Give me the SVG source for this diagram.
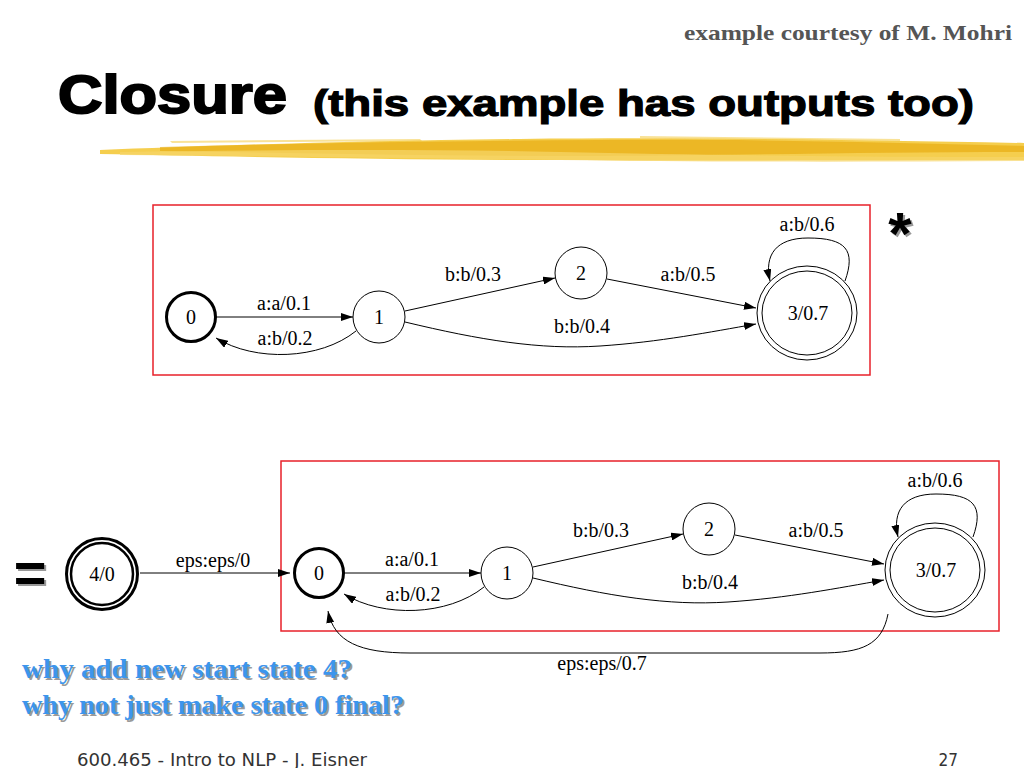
<svg xmlns="http://www.w3.org/2000/svg" width="1024" height="768" viewBox="0 0 1024 768">
<defs>
<marker id="arr" viewBox="0 0 12 8" refX="12" refY="4" markerWidth="12" markerHeight="8" markerUnits="userSpaceOnUse" orient="auto">
<path d="M0,0 L12,4 L0,8 z" fill="#000"/>
</marker>
</defs>
<style>
.st{fill:#fff;stroke:#000;stroke-width:1}
.start{fill:#fff;stroke:#000;stroke-width:3}
.nl{font-family:"Liberation Serif","Times New Roman",serif;font-size:20px;fill:#000;text-anchor:middle}
.el{font-family:"Liberation Serif","Times New Roman",serif;font-size:20px;fill:#000;text-anchor:middle}
.edge{fill:none;stroke:#000;stroke-width:1;marker-end:url(#arr)}
.box{fill:none;stroke:#e8202a;stroke-width:1.5}
.q{font-family:"Liberation Serif","Times New Roman",serif;font-size:27px;font-weight:bold}
.sans{font-family:"Liberation Sans",Arial,sans-serif;font-weight:bold}
</style>
<rect width="1024" height="768" fill="#fff"/>

<!-- header -->
<text x="1012" y="40" text-anchor="end" font-family="'Liberation Serif',serif" font-weight="bold" font-size="21" fill="#555" textLength="328" lengthAdjust="spacingAndGlyphs">example courtesy of M. Mohri</text>
<text class="sans" x="58" y="113" font-size="54" fill="#000" stroke="#000" stroke-width="2" textLength="229" lengthAdjust="spacingAndGlyphs">Closure</text>
<text class="sans" x="313" y="116" font-size="37" fill="#000" stroke="#000" stroke-width="1.2" textLength="661" lengthAdjust="spacingAndGlyphs">(this example has outputs too)</text>

<!-- brush stroke -->
<g id="brush">
<path d="M100,150 C200,146 350,141 520,139 C700,137 850,140 1024,143 L1024,160 C850,160 700,161 520,160 C350,159 200,156 100,154 z" fill="#f3c52f" opacity="0.85"/>
<path d="M160,147 C300,143 450,141 600,140 C750,139 880,142 1024,146 L1024,152 C880,152 750,155 600,156 C450,156 300,153 160,151 z" fill="#e6a90a" opacity="0.6"/>
<path d="M120,152 C260,150 420,149 560,152 C700,155 860,157 1024,157 L1024,161 C860,162 700,162 560,160 C420,158 260,156 120,155 z" fill="#f7d66a" opacity="0.7"/>
<path d="M170,141 L420,139 L422,141 L172,143 z M640,136 L900,139 L900,141 L640,138 z" fill="#f3c52f" opacity="0.5"/>
</g>

<!-- top automaton -->
<rect class="box" x="153" y="205" width="717" height="170"/>
<g id="edges-top">
<path class="edge" d="M216,317 L353,317"/>
<text class="el" x="284" y="310">a:a/0.1</text>
<path class="edge" d="M356,331 C320,360 255,362 216,338"/>
<text class="el" x="285" y="345">a:b/0.2</text>
<path class="edge" d="M405,311 L555,278"/>
<text class="el" x="473" y="281">b:b/0.3</text>
<path class="edge" d="M607,279 L756,308"/>
<text class="el" x="688" y="281">a:b/0.5</text>
<path class="edge" d="M405,322 C480,340 540,350 600,346 C660,342 710,332 756,324"/>
<text class="el" x="582" y="333">b:b/0.4</text>
<path class="edge" d="M845,281 C856,250 846,238 808,238 C776,238 764,255 770,281"/>
<text class="el" x="807" y="231">a:b/0.6</text>
</g>
<g id="t-n0"><circle class="start" cx="191" cy="317" r="24.5"/><text class="nl" x="191" y="324">0</text></g>
<g id="t-n1"><circle class="st" cx="379" cy="317" r="26"/><text class="nl" x="379" y="324">1</text></g>
<g id="t-n2"><circle class="st" cx="581" cy="273" r="26"/><text class="nl" x="581" y="280">2</text></g>
<g id="t-n3"><ellipse class="st" cx="807" cy="313" rx="50" ry="47"/><ellipse class="st" cx="807" cy="313" rx="45" ry="42"/><text class="nl" x="808" y="320">3/0.7</text></g>

<text class="sans" x="902" y="256" text-anchor="middle" font-size="60" fill="#999">*</text>
<text class="sans" x="900" y="254" text-anchor="middle" font-size="60" fill="#000">*</text>

<!-- bottom automaton -->
<text class="sans" x="32" y="594" text-anchor="middle" font-size="56" fill="#999">=</text>
<text class="sans" x="30" y="592" text-anchor="middle" font-size="56" fill="#000">=</text>

<rect class="box" x="281" y="461" width="718" height="170"/>
<g id="edges-bottom">
<path class="edge" d="M140,573 L290,573"/>
<text class="el" x="213" y="567">eps:eps/0</text>
<path class="edge" d="M344,573 L481,573"/>
<text class="el" x="412" y="566">a:a/0.1</text>
<path class="edge" d="M484,587 C448,616 383,618 344,594"/>
<text class="el" x="413" y="601">a:b/0.2</text>
<path class="edge" d="M533,567 L683,534"/>
<text class="el" x="601" y="537">b:b/0.3</text>
<path class="edge" d="M735,535 L884,564"/>
<text class="el" x="816" y="537">a:b/0.5</text>
<path class="edge" d="M533,578 C608,596 668,606 728,602 C788,598 838,588 884,580"/>
<text class="el" x="710" y="589">b:b/0.4</text>
<path class="edge" d="M973,537 C984,506 974,494 936,494 C904,494 892,511 898,537"/>
<text class="el" x="935" y="487">a:b/0.6</text>
<path class="edge" d="M888,614 C882,645 862,653 820,653 L410,653 C360,653 334,642 328,611"/>
<text class="el" x="602" y="670">eps:eps/0.7</text>
</g>
<g id="b-n4"><circle class="start" cx="102" cy="574" r="35.5"/><circle fill="none" stroke="#000" stroke-width="2.5" cx="102" cy="574" r="31"/><text class="nl" x="102" y="581">4/0</text></g>
<g id="b-n0"><circle class="start" cx="319" cy="573" r="24.5"/><text class="nl" x="319" y="580">0</text></g>
<g id="b-n1"><circle class="st" cx="507" cy="573" r="26"/><text class="nl" x="507" y="580">1</text></g>
<g id="b-n2"><circle class="st" cx="709" cy="529" r="26"/><text class="nl" x="709" y="536">2</text></g>
<g id="b-n3"><ellipse class="st" cx="935" cy="570" rx="50" ry="47"/><ellipse class="st" cx="935" cy="570" rx="45" ry="42"/><text class="nl" x="936" y="577">3/0.7</text></g>

<!-- questions -->
<text class="q" x="24" y="680" fill="#9a9a9a" textLength="330" lengthAdjust="spacingAndGlyphs">why add new start state 4?</text>
<text class="q" x="22" y="678" fill="#3d95ec" textLength="330" lengthAdjust="spacingAndGlyphs">why add new start state 4?</text>
<text class="q" x="24" y="716" fill="#9a9a9a" textLength="382" lengthAdjust="spacingAndGlyphs">why not just make state 0 final?</text>
<text class="q" x="22" y="714" fill="#3d95ec" textLength="382" lengthAdjust="spacingAndGlyphs">why not just make state 0 final?</text>

<!-- footer -->
<text x="77" y="766" font-family="'DejaVu Sans Condensed','DejaVu Sans',sans-serif" font-size="17" fill="#333" textLength="290" lengthAdjust="spacingAndGlyphs">600.465 - Intro to NLP - J. Eisner</text>
<text x="958" y="766" text-anchor="end" font-family="'DejaVu Sans Condensed','DejaVu Sans',sans-serif" font-size="17" fill="#333">27</text>
</svg>
